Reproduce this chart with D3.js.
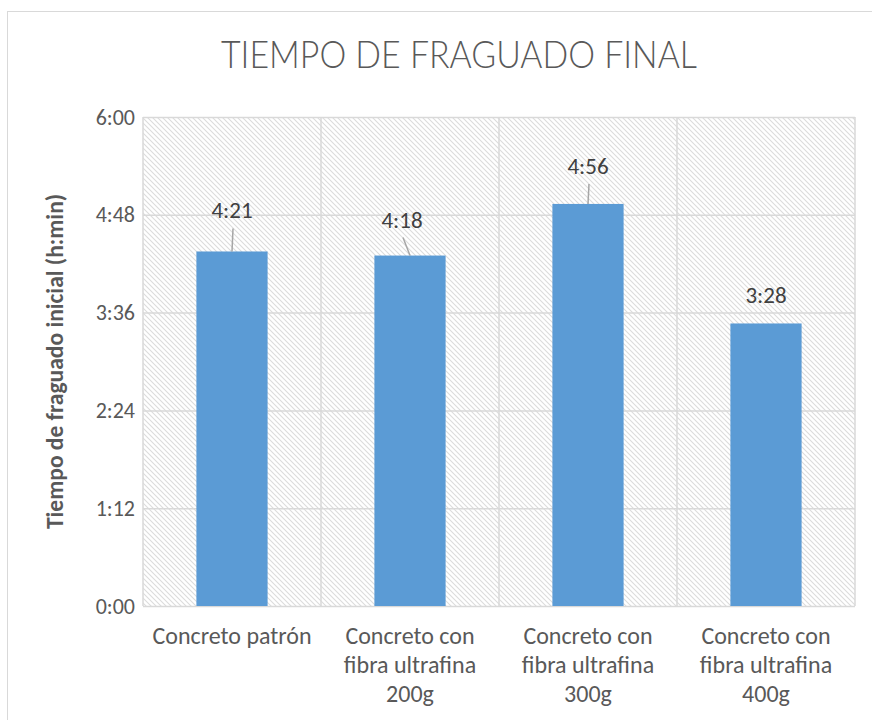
<!DOCTYPE html>
<html lang="es">
<head>
<meta charset="utf-8">
<script src="https://d3js.org/d3.v7.min.js"></script>
<style>
  body { margin: 0; background: #fff; }
  text { font-family: Carlito, "Open Sans", sans-serif; fill: #595959; }
</style>
</head>
<body>
<script>
// data (minutes)
var categories = [
    ["Concreto patrón"],
    ["Concreto con", "fibra ultrafina", "200g"],
    ["Concreto con", "fibra ultrafina", "300g"],
    ["Concreto con", "fibra ultrafina", "400g"]
];
var values = [261, 258, 296, 208];   // 4:21, 4:18, 4:56, 3:28
var yTicks = [0, 72, 144, 216, 288, 360];

// manual label placement, like in the original sheet
var labelGap = [33, 28, 30, 20];
var labelDx = [0, -8, 0, 0];

var W = 872, H = 720;
var plotL = 143, plotR = 855, plotT = 117, plotB = 606;

function hm(m) {
    var h = Math.floor(m / 60), mm = m % 60;
    return h + ":" + (mm < 10 ? "0" : "") + mm;
}

var svg = d3.select("body").append("svg")
    .attr("width", W)
    .attr("height", H);

// hatch pattern for plot area
var defs = svg.append("defs");
var pat = defs.append("pattern")
    .attr("id", "hatch")
    .attr("patternUnits", "userSpaceOnUse")
    .attr("width", 5)
    .attr("height", 5);
pat.append("path")
    .attr("d", "M-1,-1 L6,6 M-1,4 L1,6 M4,-1 L6,1")
    .attr("stroke", "#dcdcdc")
    .attr("stroke-width", 1.1);

// outer chart border
svg.append("rect")
    .attr("x", 7.5).attr("y", 11.5)
    .attr("width", 1000).attr("height", 1000)
    .attr("fill", "none")
    .attr("stroke", "#d9d9d9");

var x = d3.scaleBand()
    .domain(d3.range(categories.length))
    .range([plotL, plotR])
    .paddingInner(0.6)
    .paddingOuter(0.3);

var y = d3.scaleLinear()
    .domain([0, 360])
    .range([plotB, plotT]);

svg.append("rect")
    .attr("x", plotL).attr("y", plotT)
    .attr("width", plotR - plotL).attr("height", plotB - plotT)
    .attr("fill", "url(#hatch)");

// horizontal grid + y labels
var yAxis = svg.append("g")
    .attr("transform", "translate(" + plotL + ",0)")
    .call(d3.axisLeft(y)
        .tickValues(yTicks)
        .tickFormat(hm)
        .tickSize(-(plotR - plotL))
        .tickPadding(8));
yAxis.select(".domain").remove();
yAxis.selectAll("line").attr("stroke", "#d9d9d9").attr("stroke-width", 1.5);
yAxis.selectAll("text")
    .attr("fill", "#595959")
    .style("font-size", "22px")
    .style("font-family", "Carlito, 'Open Sans', sans-serif");

// vertical grid at category borders
var step = x.step();
var borders = d3.range(categories.length + 1).map(function(i) { return plotL + i * step; });
svg.selectAll(".vgrid")
    .data(borders)
    .enter().append("line")
    .attr("class", "vgrid")
    .attr("x1", function(d) { return d; })
    .attr("x2", function(d) { return d; })
    .attr("y1", plotT)
    .attr("y2", plotB)
    .attr("stroke", "#d9d9d9")
    .attr("stroke-width", 1.5);

// bars
svg.selectAll(".bar")
    .data(values)
    .enter().append("rect")
    .attr("class", "bar")
    .attr("x", function(d, i) { return x(i); })
    .attr("y", function(d) { return y(d); })
    .attr("width", x.bandwidth())
    .attr("height", function(d) { return y(0) - y(d); })
    .attr("fill", "#5b9bd5");

// data labels + leader lines
values.forEach(function(v, i) {
    var cx = x(i) + x.bandwidth() / 2;
    var ly = y(v) - labelGap[i];
    var lx = cx + labelDx[i];
    svg.append("text")
        .attr("x", lx)
        .attr("y", ly)
        .attr("text-anchor", "middle")
        .style("font-size", "23px")
        .style("fill", "#404040")
        .text(hm(v));
    if (labelGap[i] > 24) {
        svg.append("line")
            .attr("x1", lx + 1)
            .attr("y1", ly + 10)
            .attr("x2", cx)
            .attr("y2", y(v))
            .attr("stroke", "#a6a6a6")
            .attr("stroke-width", 1.5);
    }
});

// x labels
categories.forEach(function(lines, i) {
    var t = svg.append("text")
        .attr("text-anchor", "middle")
        .attr("x", x(i) + x.bandwidth() / 2)
        .attr("y", 644)
        .style("font-size", "24px");
    lines.forEach(function(s, j) {
        t.append("tspan")
            .attr("x", x(i) + x.bandwidth() / 2)
            .attr("y", 644 + j * 29)
            .text(s);
    });
});

// y axis title
svg.append("text")
    .attr("transform", "translate(63," + ((plotT + plotB) / 2) + ") rotate(-90)")
    .attr("text-anchor", "middle")
    .style("font-size", "23.5px")
    .style("font-weight", "bold")
    .text("Tiempo de fraguado inicial (h:min)");

// title (light face, squeezed to the original width)
svg.append("text")
    .attr("x", 459)
    .attr("y", 68)
    .attr("text-anchor", "middle")
    .attr("textLength", 476)
    .attr("lengthAdjust", "spacingAndGlyphs")
    .style("font-family", "Lato, Carlito, sans-serif")
    .style("font-size", "37px")
    .style("font-weight", "300")
    .text("TIEMPO DE FRAGUADO FINAL");
</script>
</body>
</html>
